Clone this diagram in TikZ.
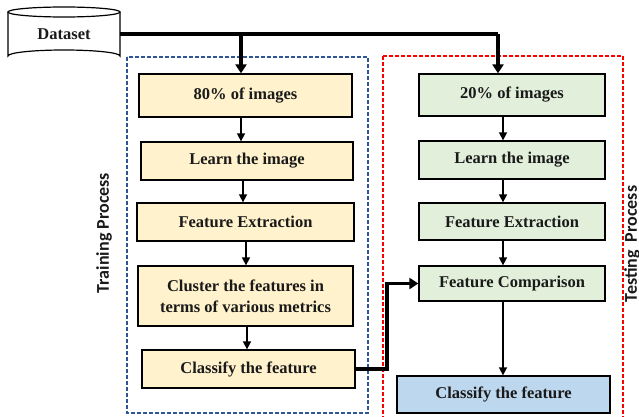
\documentclass[tikz,border=0pt]{standalone}
\usepackage{fontspec}
\setmainfont{Liberation Serif}
\newfontfamily\lblfont{Carlito}
\usetikzlibrary{arrows.meta}
\definecolor{yel}{HTML}{FFF2CC}
\definecolor{grn}{HTML}{E2EFDA}
\definecolor{blu}{HTML}{BDD7EE}
\definecolor{dblue}{HTML}{2F5597}
\definecolor{txt}{HTML}{1A1A1A}
\tikzset{
  box/.style={draw=black, line width=1.3pt, inner sep=0pt, align=center, text=txt,
    font=\fontsize{16.5}{21}\selectfont\bfseries},
  ybox/.style={box, fill=yel},
  gbox/.style={box, fill=grn},
  bbox/.style={box, fill=blu},
  thin arrow/.style={line width=1.6pt, -{Triangle[width=8pt,length=8pt]}},
  thick arrow/.style={line width=3.5pt, -{Triangle[width=11pt,length=9pt]}},
  frame/.style={dashed, dash pattern=on 4pt off 2pt, line width=1.1pt},
  lbl/.style={rotate=90, text=txt, font=\lblfont\fontsize{18}{20}\selectfont\bfseries}
}
\begin{document}
\begin{tikzpicture}[x=1pt,y=-1pt]
\useasboundingbox (0,0) rectangle (639,417);
% dashed frames
\draw[frame, draw=dblue] (127,57) rectangle (368,413);
\draw[frame, draw=red] (383,56) rectangle (623,430);
% dataset cylinder
\draw[line width=1.2pt, fill=white] (8,12) -- (8,56) arc[start angle=180, end angle=360, x radius=56, y radius=6] -- (120,12);
\draw[line width=1.2pt, fill=white] (64,12) ellipse [x radius=56, y radius=5];
\node[inner sep=0pt, minimum width=112pt, minimum height=50pt, text=txt,
  font=\fontsize{16.5}{20}\selectfont\bfseries] (ds) at (64,34) {\raisebox{-3pt}{Dataset}};
% left column
\node[ybox, minimum width=213pt, minimum height=43pt] (l1) at (245.5,95.5) {80\% of images};
\node[ybox, minimum width=212pt, minimum height=38pt] (l2) at (247,161) {Learn the image};
\node[ybox, minimum width=217pt, minimum height=38pt] (l3) at (245.5,222) {Feature Extraction};
\node[ybox, minimum width=215pt, minimum height=60pt] (l4) at (245.5,296) {Cluster the features in\\terms of various metrics};
\node[ybox, minimum width=213pt, minimum height=38pt] (l5) at (248.5,369) {Classify the feature};
% right column
\node[gbox, minimum width=186pt, minimum height=42pt] (t1) at (512,95) {20\% of images};
\node[gbox, minimum width=186pt, minimum height=38pt] (t2) at (512,160) {Learn the image};
\node[gbox, minimum width=186pt, minimum height=37pt] (t3) at (512,221.5) {Feature Extraction};
\node[gbox, minimum width=186pt, minimum height=35pt] (t4) at (512,283.5) {Feature Comparison};
\node[bbox, minimum width=213pt, minimum height=37pt] (t5) at (503.5,394.5) {Classify the feature};
% labels
\node[lbl] (tr) at (104,233) {Training Process};
\node[lbl] (te) at (632,244) {Testing\ \ Process};
% helper coordinates
\coordinate (j0) at (241,34);
\coordinate (j1) at (498,34);
\coordinate (j2) at (387,0);
\coordinate (xr) at (503,0);
% thick connectors
\draw[line width=3.5pt] (ds.east) -- (j1);
\draw[thick arrow] (j1) -- (j1 |- t1.north);
\draw[thick arrow] (j0) -- (j0 |- l1.north);
\draw[thick arrow] (l5.east) -- (l5.east -| j2) |- (t4.west);
% thin arrows left
\draw[thin arrow] (l1.south -| j0) -- (l2.north -| j0);
\draw[thin arrow] ([xshift=2pt]l2.south -| j0) -- ([xshift=2pt]l3.north -| j0);
\draw[thin arrow] ([xshift=5pt]l3.south -| j0) -- ([xshift=5pt]l4.north -| j0);
\draw[thin arrow] ([xshift=6pt]l4.south -| j0) -- ([xshift=6pt]l5.north -| j0);
% thin arrows right
\draw[thin arrow] (t1.south -| xr) -- (t2.north -| xr);
\draw[thin arrow] (t2.south -| xr) -- (t3.north -| xr);
\draw[thin arrow] (t3.south -| xr) -- (t4.north -| xr);
\draw[thin arrow] (t4.south -| xr) -- (t5.north -| xr);
\end{tikzpicture}
\end{document}
